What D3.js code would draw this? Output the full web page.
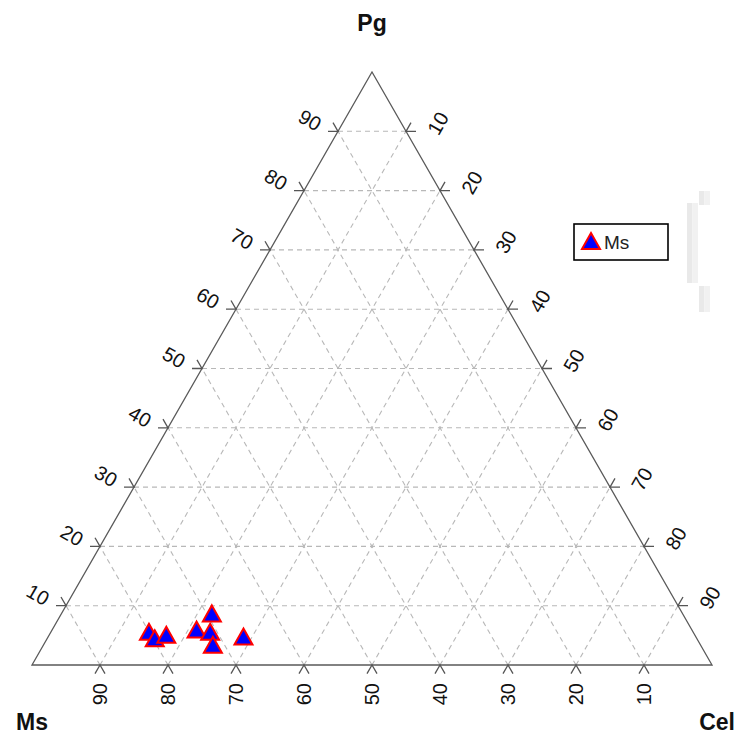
<!DOCTYPE html>
<html>
<head>
<meta charset="utf-8">
<script src="https://cdn.jsdelivr.net/npm/d3@7"></script>
<style>
html,body{margin:0;padding:0;background:#fff;}
svg{display:block;}
text{font-family:"Liberation Sans",Arial,sans-serif;}
</style>
</head>
<body>
<svg id="chart" width="736" height="735"></svg>
<script>
// ---- data (percentages) ----
const componentNames = ["Ms", "Pg", "Cel"];
const seriesName = "Ms";
const msValues  = [80.0, 79.7, 77.7, 72.8, 69.2, 71.0, 71.7, 66.5];
const pgValues  = [5.6, 4.5, 5.1, 6.0, 8.7, 5.6, 3.4, 4.8];
const celValues = [14.4, 15.8, 17.2, 21.2, 22.1, 23.4, 24.9, 28.7];
const tickValues = [10, 20, 30, 40, 50, 60, 70, 80, 90];

const svg = d3.select("#chart");

// horizontal position from (Cel + Pg/2), vertical from Pg
const xs = d3.scaleLinear().domain([0, 100]).range([32, 712]);
const ys = d3.scaleLinear().domain([0, 100]).range([665, 72]);
const pt = (ms, pg, cel) => [xs(cel + pg / 2), ys(pg)];

// background artifacts at right
const art = [[687, 203, 11, 80], [699, 191, 11, 14], [699, 286, 11, 26]];
art.forEach(a => {
  svg.append("rect").attr("x", a[0]).attr("y", a[1]).attr("width", a[2] / 2).attr("height", a[3]).attr("fill", "#e9e9e9");
  svg.append("rect").attr("x", a[0] + a[2] / 2).attr("y", a[1]).attr("width", a[2] / 2).attr("height", a[3]).attr("fill", "#f1f1f1");
});

// grid
const grid = svg.append("g").attr("fill", "none").attr("stroke", "#b8b8b8")
  .attr("stroke-width", 1.1).attr("stroke-dasharray", "5,4");
tickValues.forEach(v => {
  // constant Pg
  let a = pt(100 - v, v, 0), b = pt(0, v, 100 - v);
  grid.append("line").attr("x1", a[0]).attr("y1", a[1]).attr("x2", b[0]).attr("y2", b[1]);
  // constant Cel
  a = pt(100 - v, 0, v); b = pt(0, 100 - v, v);
  grid.append("line").attr("x1", a[0]).attr("y1", a[1]).attr("x2", b[0]).attr("y2", b[1]);
  // constant Ms
  a = pt(v, 0, 100 - v); b = pt(v, 100 - v, 0);
  grid.append("line").attr("x1", a[0]).attr("y1", a[1]).attr("x2", b[0]).attr("y2", b[1]);
});

// triangle frame
const L = pt(100, 0, 0), T = pt(0, 100, 0), R = pt(0, 0, 100);
svg.append("path")
  .attr("d", d3.line()([L, T, R, L]) + "Z")
  .attr("fill", "none").attr("stroke", "#5a5a5a").attr("stroke-width", 1.3);

// ticks
const tk = svg.append("g").attr("stroke", "#555").attr("stroke-width", 1.3).attr("fill", "none");
const tl = 10, dx = tl * 0.5, dy = tl * 0.866;
const labG = svg.append("g").attr("font-size", 20).attr("fill", "#111");
tickValues.forEach(v => {
  // left axis: Pg
  let p = pt(100 - v, v, 0);
  tk.append("path").attr("d", `M${p[0] - tl},${p[1]}L${p[0]},${p[1]}L${p[0] - dx},${p[1] - dy}`);
  labG.append("text").attr("transform", `translate(${p[0] - 28},${p[1] - 11}) rotate(30)`)
    .attr("text-anchor", "middle").attr("dy", "0.35em").text(v);
  // right axis: Cel
  p = pt(0, 100 - v, v);
  tk.append("path").attr("d", `M${p[0] + tl},${p[1]}L${p[0]},${p[1]}L${p[0] + dx},${p[1] - dy}`);
  labG.append("text").attr("transform", `translate(${p[0] + 32},${p[1] - 8}) rotate(-60)`)
    .attr("text-anchor", "middle").attr("dy", "0.35em").text(v);
  // bottom axis: Ms
  p = pt(v, 0, 100 - v);
  tk.append("path").attr("d", `M${p[0] - dx},${p[1] + dy}L${p[0]},${p[1]}L${p[0] + dx},${p[1] + dy}`);
  labG.append("text").attr("transform", `translate(${p[0]},${p[1] + 18}) rotate(-90)`)
    .attr("text-anchor", "end").attr("dy", "0.35em").text(v);
});

// corner labels
const cl = svg.append("g").attr("font-size", 23).attr("font-weight", "bold").attr("fill", "#111");
cl.append("text").attr("x", T[0]).attr("y", 31).attr("text-anchor", "middle").text(componentNames[1]);
cl.append("text").attr("x", 16).attr("y", 730).attr("text-anchor", "start").text(componentNames[0]);
cl.append("text").attr("x", 735).attr("y", 730).attr("text-anchor", "end").text(componentNames[2]);

// marker
const mw = 18, mh = 16;
const triPath = `M0,${-mh / 2}L${mw / 2},${mh / 2}L${-mw / 2},${mh / 2}Z`;

// points
const data = msValues.map((m, i) => ({ ms: m, pg: pgValues[i], cel: celValues[i] }));
svg.append("g").selectAll("path").data(data).join("path")
  .attr("d", triPath)
  .attr("transform", d => { const p = pt(d.ms, d.pg, d.cel); return `translate(${p[0]},${p[1]})`; })
  .attr("fill", "#0000ff").attr("stroke", "#ff0000").attr("stroke-width", 2).attr("stroke-linejoin", "miter");

// legend
const lg = svg.append("g");
lg.append("rect").attr("x", 574).attr("y", 224).attr("width", 94).attr("height", 36)
  .attr("fill", "#fff").attr("stroke", "#000").attr("stroke-width", 1.6);
lg.append("path").attr("d", triPath).attr("transform", "translate(591,241)")
  .attr("fill", "#0000ff").attr("stroke", "#ff0000").attr("stroke-width", 2);
lg.append("text").attr("x", 604).attr("y", 249).attr("font-size", 19).attr("fill", "#222").text(seriesName);
</script>
</body>
</html>
